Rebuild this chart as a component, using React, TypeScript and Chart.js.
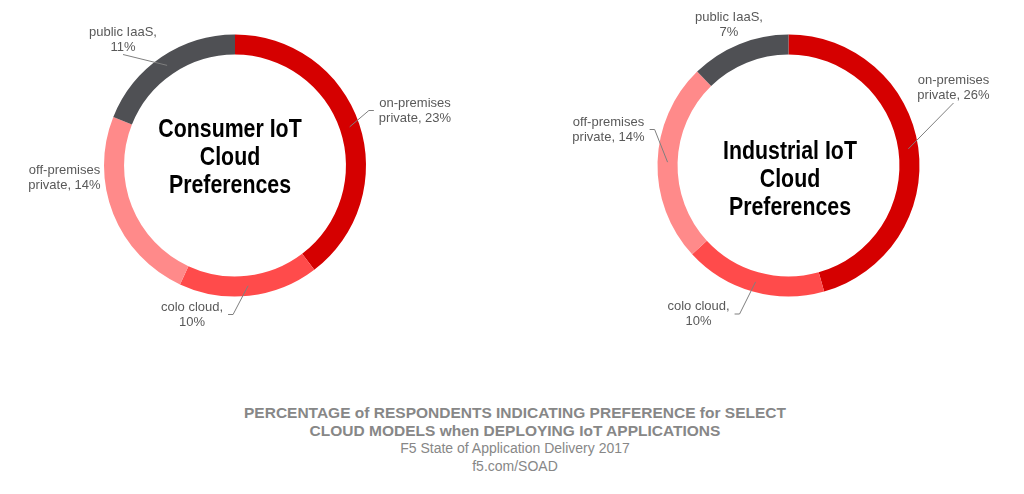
import { useEffect, useRef } from 'react';
import { Chart, registerables } from 'chart.js';

Chart.register(...registerables);

document.body.style.margin = '0';

// category names, split where the labels wrap
const categories = [['on-premises', 'private'], ['colo cloud'], ['off-premises', 'private'], ['public IaaS']];
const consumerValues = [23, 10, 14, 11];
const industrialValues = [26, 10, 14, 7];
const sliceColors = ['#d50000', '#ff4b4b', '#ff8a8a', '#4f5054'];

const consumerTitle = ['Consumer IoT', 'Cloud', 'Preferences'];
const industrialTitle = ['Industrial IoT', 'Cloud', 'Preferences'];
const captionBold = ['PERCENTAGE of RESPONDENTS INDICATING PREFERENCE for SELECT', 'CLOUD MODELS when DEPLOYING IoT APPLICATIONS'];
const captionPlain = ['F5 State of Application Delivery 2017', 'f5.com/SOAD'];

// where each label block sits, relative to the ring centre, and if it gets a leader line
const consumerLabelPos = [[180, -55], [-43, 149], [-170.5, 12.5], [-112, -126]];
const consumerLeaders = [true, true, false, true];
const industrialLabelPos = [[165, -77.5], [-90, 148.5], [-180, -36], [-59.5, -141]];
const industrialLeaders = [true, true, true, false];

function labelLines(i: number, v: number) {
  const c = categories[i];
  return c.length > 1 ? [c[0], `${c[1]}, ${v}%`] : [`${c[0]},`, `${v}%`];
}

const sliceLabels = {
  id: 'sliceLabels',
  afterDatasetsDraw(chart: any, _args: any, opts: any) {
    const { ctx } = chart;
    const meta = chart.getDatasetMeta(0);
    const values = chart.data.datasets[0].data as number[];
    const lh = 15;
    ctx.save();
    ctx.font = '13px "Liberation Sans", Arial, sans-serif';
    ctx.textAlign = 'center';
    ctx.textBaseline = 'middle';
    meta.data.forEach((el: any, i: number) => {
      const { x, y, startAngle, endAngle, innerRadius, outerRadius } = el.getProps(['x', 'y', 'startAngle', 'endAngle', 'innerRadius', 'outerRadius'], true);
      const lines = labelLines(i, values[i]);
      const [dx, dy] = opts.pos[i];
      const cx = x + dx, cy = y + dy;
      const hw = Math.max(...lines.map((l: string) => ctx.measureText(l).width)) / 2;
      const hh = lines.length * lh / 2;
      ctx.fillStyle = '#595959';
      lines.forEach((l: string, j: number) => ctx.fillText(l, cx, cy - hh + lh / 2 + j * lh));
      if (!opts.leaders[i]) return;
      const mid = (startAngle + endAngle) / 2;
      const r = (innerRadius + outerRadius) / 2;
      const px = x + Math.cos(mid) * r, py = y + Math.sin(mid) * r;
      const sepX = px < cx - hw ? cx - hw - px : px > cx + hw ? px - cx - hw : 0;
      const sepY = py < cy - hh ? cy - hh - py : py > cy + hh ? py - cy - hh : 0;
      ctx.strokeStyle = '#7f7f7f';
      ctx.lineWidth = 1;
      ctx.beginPath();
      if (sepY > sepX) {
        ctx.moveTo(cx, py > cy ? cy + hh : cy - hh);
        ctx.lineTo(px, py);
      } else {
        const s = px > cx ? 1 : -1;
        const ax = cx + s * (hw + 5);
        ctx.moveTo(ax, cy);
        ctx.lineTo(ax + s * 5, cy);
        ctx.lineTo(px, py);
      }
      ctx.stroke();
    });
    ctx.restore();
  },
};

function Donut({ values, pos, leaders, left, padding }: any) {
  const ref = useRef<HTMLCanvasElement>(null);
  useEffect(() => {
    const chart = new Chart(ref.current!, {
      type: 'doughnut',
      data: {
        labels: categories.map(c => c.join(' ')),
        datasets: [{ data: values, backgroundColor: sliceColors, borderWidth: 0, hoverOffset: 0, offset: 0 }],
      },
      options: {
        animation: false,
        responsive: true,
        maintainAspectRatio: false,
        cutout: '84.7%',
        events: [],
        layout: { padding },
        plugins: { legend: { display: false }, tooltip: { enabled: false }, sliceLabels: { pos, leaders } } as any,
      },
      plugins: [sliceLabels],
    });
    return () => chart.destroy();
  }, []);
  return (
    <div style={{ position: 'absolute', left, top: 0, width: 512, height: 350 }}>
      <canvas ref={ref} />
    </div>
  );
}

// no narrow font installed, so squeeze the bold sans horizontally
function Title({ lines, cx, top }: { lines: string[]; cx: number; top: number }) {
  return (
    <div style={{
      position: 'absolute', left: cx - 110, top, width: 220, textAlign: 'center',
      font: 'bold 26px "Liberation Sans", Arial, sans-serif', lineHeight: '28px', color: '#000',
      transform: 'scaleX(0.82)', transformOrigin: '50% 50%', whiteSpace: 'nowrap',
    }}>
      {lines.map((l, i) => <div key={i}>{l}</div>)}
    </div>
  );
}

export default function App() {
  return (
    <div style={{ position: 'relative', width: 1024, height: 494, background: '#fff', overflow: 'hidden' }}>
      <Donut values={consumerValues} pos={consumerLabelPos} leaders={consumerLeaders} left={0}
        padding={{ left: 104, right: 146, top: 34.5, bottom: 53.5 }} />
      <Donut values={industrialValues} pos={industrialLabelPos} leaders={industrialLeaders} left={512}
        padding={{ left: 145.5, right: 104.5, top: 34.5, bottom: 53.5 }} />
      <Title lines={consumerTitle} cx={229.5} top={114} />
      <Title lines={industrialTitle} cx={789.5} top={136.3} />
      <div style={{
        position: 'absolute', left: 0, top: 404.2, width: 1030, textAlign: 'center',
        fontFamily: '"Liberation Sans", Arial, sans-serif', color: '#878787',
      }}>
        {captionBold.map((l, i) => (
          <div key={'b' + i} style={{ fontWeight: 'bold', fontSize: 15.5, lineHeight: '17.5px' }}>{l}</div>
        ))}
        {captionPlain.map((l, i) => (
          <div key={'p' + i} style={{ fontSize: 14, lineHeight: '18px' }}>{l}</div>
        ))}
      </div>
    </div>
  );
}
